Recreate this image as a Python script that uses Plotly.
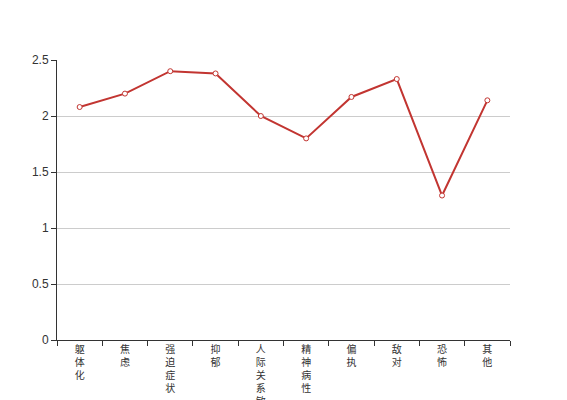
import plotly.graph_objects as go

categories = ["躯体化", "焦虑", "强迫症状", "抑郁", "人际关系敏感", "精神病性", "偏执", "敌对", "恐怖", "其他"]
values = [2.08, 2.20, 2.40, 2.38, 2.00, 1.80, 2.17, 2.33, 1.29, 2.14]
tick_labels = ["<br>".join(list(c)) for c in categories]

fig = go.Figure()
fig.add_trace(go.Scatter(
    x=categories, y=values, mode="lines+markers",
    line=dict(color="#c23531", width=2),
    marker=dict(symbol="circle", size=5, color="white", line=dict(color="#c23531", width=1)),
    hoverinfo="x+y",
))

# page body has an 8px default margin, so the figure is offset by 8px
fig.update_layout(
    width=559, height=392,
    margin=dict(l=49, r=57, t=52, b=60),
    paper_bgcolor="white", plot_bgcolor="white",
    font=dict(family="Liberation Sans, Noto Sans CJK SC, sans-serif", size=12, color="#333"),
    showlegend=False,
    xaxis=dict(
        type="category", tickmode="array", tickvals=categories, ticktext=tick_labels,
        range=[-0.5, 9.5], tickson="boundaries", ticks="outside", ticklen=5,
        tickcolor="#333", showline=True, linecolor="#333", linewidth=1,
        showgrid=False, tickangle=0, automargin=False,
        tickfont=dict(size=10, color="#333"),
    ),
    yaxis=dict(
        range=[0, 2.5], dtick=0.5, tickformat="~g", ticks="outside", ticklen=5,
        tickcolor="#333", showline=True, linecolor="#333", linewidth=1,
        showgrid=True, gridcolor="#ccc", zeroline=False, automargin=False,
        tickfont=dict(size=12, color="#333"),
    ),
)

fig.write_html("out.html")
